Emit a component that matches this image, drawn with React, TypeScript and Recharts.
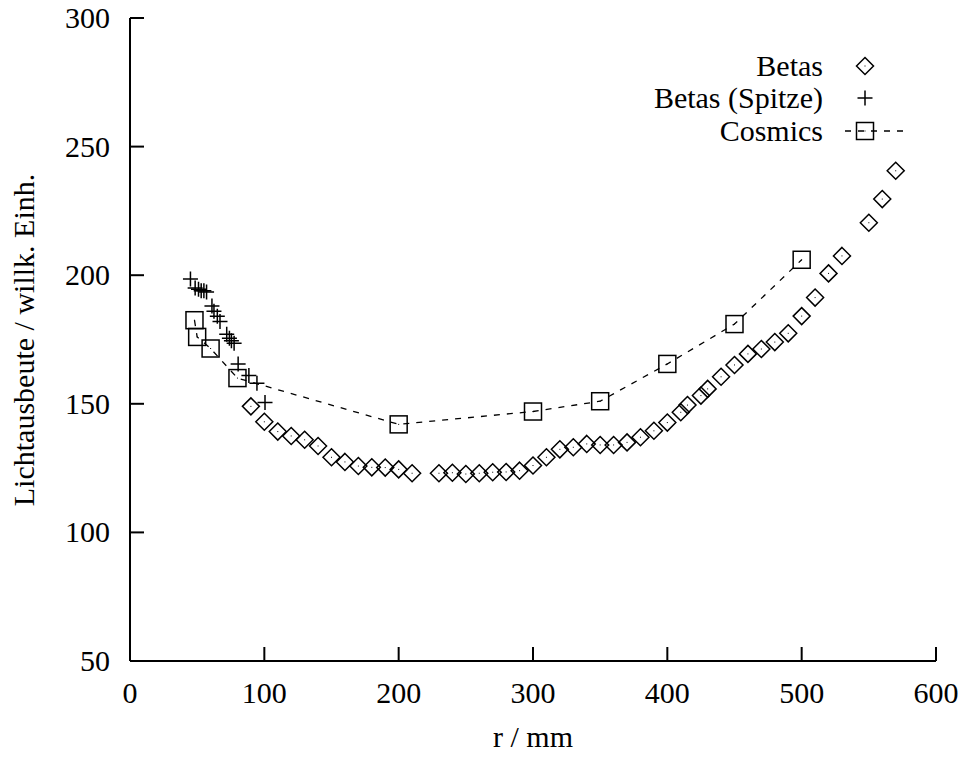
import { ScatterChart, Scatter, XAxis, YAxis, Legend } from "recharts";

// r / mm values and light yield
const betasR = [90, 100, 110, 120, 130, 140, 150, 160, 170, 180, 190, 200, 210, 230, 240, 250, 260, 270, 280, 290, 300, 310, 320, 330, 340, 350, 360, 370, 380, 390, 400, 410, 415, 425, 430, 440, 450, 460, 470, 480, 490, 500, 510, 520, 530, 550, 560, 570];
const betasV = [149, 143, 139.2, 137.5, 136, 133.6, 129.2, 127.4, 125.8, 125.3, 125.2, 124.5, 123, 123, 123.2, 122.7, 123, 123.4, 123.5, 124, 126, 129.2, 132.3, 133.1, 134.4, 134, 134, 135, 137, 139.5, 142.7, 146.7, 149.5, 153.2, 155.8, 160.5, 165.1, 169.4, 171.3, 174, 177.4, 184.1, 191.3, 200.7, 207.5, 220.4, 229.6, 240.6];

const spitzeR = [45, 48.5, 51, 53, 55, 57, 61, 62.5, 65, 67, 72, 74, 75.5, 77.5, 80.5, 88.5, 94.5, 100.5];
const spitzeV = [198.5, 195, 194.5, 194, 194, 193.5, 188, 186, 184, 182, 177, 175.5, 174.5, 173.5, 165.5, 161, 158, 150.5];

const cosmicsR = [48, 50, 60, 80, 200, 300, 350, 400, 450, 500];
const cosmicsV = [182.5, 176, 171.5, 160, 142, 147, 151, 165.5, 181, 206];

const X_TICKS = [0, 100, 200, 300, 400, 500, 600];
const Y_TICKS = [50, 100, 150, 200, 250, 300];

const LEGEND_LABELS = ["Betas", "Betas (Spitze)", "Cosmics"];

const zip = (rs: number[], vs: number[]) => rs.map((r, i) => ({ r, v: vs[i] }));
const betas = zip(betasR, betasV);
const spitze = zip(spitzeR, spitzeV);
const cosmics = zip(cosmicsR, cosmicsV);

// plot frame inside the svg (svg sits at the page's top-left corner)
const W = 964;
const H = 758;
const PL = 130;
const PR = 936;
const PT = 18;
const PB = 661;
const TICK = 14;
const TXT = { fontFamily: '"Liberation Serif", "Times New Roman", Times, serif', fontSize: 30 };

const Diamond = ({ cx, cy }: any) => (
  <g>
    <path d={`M${cx},${cy - 8.5} L${cx + 8.5},${cy} L${cx},${cy + 8.5} L${cx - 8.5},${cy} Z`} fill="none" stroke="#000" strokeWidth={1.5} />
    <rect x={cx - 0.5} y={cy - 0.5} width={1} height={1} fill="#000" />
  </g>
);

const Cross = ({ cx, cy }: any) => (
  <path d={`M${cx - 7.5},${cy} H${cx + 7.5} M${cx},${cy - 7.5} V${cy + 7.5}`} stroke="#000" strokeWidth={1.5} fill="none" />
);

const Square = ({ cx, cy }: any) => (
  <g>
    <rect x={cx - 8.5} y={cy - 8.5} width={17} height={17} fill="none" stroke="#000" strokeWidth={1.5} />
    <rect x={cx - 0.5} y={cy - 0.5} width={1} height={1} fill="#000" />
  </g>
);

const LeftTick = ({ y, payload }: any) => (
  <g>
    <line x1={PL} x2={PL + TICK} y1={y} y2={y} stroke="#000" strokeWidth={2} />
    <text x={PL - 20} y={y + 10} textAnchor="end" style={TXT} fill="#000">
      {payload.value}
    </text>
  </g>
);

const RightTick = ({ y }: any) => <line x1={PR - TICK} x2={PR} y1={y} y2={y} stroke="#000" strokeWidth={2} />;

const BottomTick = ({ x, payload }: any) => (
  <g>
    <line x1={x} x2={x} y1={PB - TICK} y2={PB} stroke="#000" strokeWidth={2} />
    <text x={x} y={PB + 42} textAnchor="middle" style={TXT} fill="#000">
      {payload.value}
    </text>
  </g>
);

const TopTick = ({ x }: any) => <line x1={x} x2={x} y1={PT} y2={PT + TICK} stroke="#000" strokeWidth={2} />;

function LegendBox() {
  const rows = [28, 60, 93];
  const symX = 257;
  return (
    <svg width={330} height={120}>
      {LEGEND_LABELS.map((label, i) => (
        <text key={label} x={215} y={rows[i] + 10} textAnchor="end" style={TXT} fill="#000">
          {label}
        </text>
      ))}
      <Diamond cx={symX} cy={rows[0]} />
      <Cross cx={symX} cy={rows[1]} />
      <line x1={237} x2={297} y1={rows[2]} y2={rows[2]} stroke="#000" strokeWidth={1.3} strokeDasharray="6 7" />
      <Square cx={symX} cy={rows[2]} />
    </svg>
  );
}

export default function App() {
  return (
    <div style={{ position: "absolute", left: 0, top: 0, width: W, height: H }}>
      <ScatterChart width={W} height={H} margin={{ top: PT, right: W - PR, bottom: 0, left: 0 }}>
        <XAxis
          type="number"
          dataKey="r"
          domain={[0, 600]}
          ticks={X_TICKS}
          height={H - PB}
          axisLine={{ stroke: "#000", strokeWidth: 2 }}
          tickLine={false}
          tick={<BottomTick />}
          interval={0}
          label={() => (
            <text x={(PL + PR) / 2} y={H - 11} textAnchor="middle" style={TXT} fill="#000">
              r / mm
            </text>
          )}
        />
        <XAxis
          xAxisId="top"
          orientation="top"
          type="number"
          dataKey="r"
          domain={[0, 600]}
          ticks={X_TICKS}
          height={0}
          axisLine={{ stroke: "#000", strokeWidth: 2 }}
          tickLine={false}
          tick={<TopTick />}
          interval={0}
        />
        <YAxis
          type="number"
          dataKey="v"
          domain={[50, 300]}
          ticks={Y_TICKS}
          width={PL}
          axisLine={{ stroke: "#000", strokeWidth: 2 }}
          tickLine={false}
          tick={<LeftTick />}
          interval={0}
          label={() => (
            <text transform="translate(34,340) rotate(-90)" x={0} y={0} textAnchor="middle" style={TXT} fill="#000">
              Lichtausbeute / willk. Einh.
            </text>
          )}
        />
        <YAxis
          yAxisId="right"
          orientation="right"
          type="number"
          dataKey="v"
          domain={[50, 300]}
          ticks={Y_TICKS}
          width={0}
          axisLine={{ stroke: "#000", strokeWidth: 2 }}
          tickLine={false}
          tick={<RightTick />}
          interval={0}
        />
        <Legend
          layout="vertical"
          align="center"
          verticalAlign="middle"
          wrapperStyle={{ top: 38, left: 608, width: 330, height: 120 }}
          content={() => <LegendBox />}
        />
        <Scatter
          name="Cosmics"
          data={cosmics}
          line={{ stroke: "#000", strokeWidth: 1.3, strokeDasharray: "6 7" }}
          lineType="joint"
          shape={(p: any) => <Square cx={p.cx} cy={p.cy} />}
          isAnimationActive={false}
        />
        <Scatter name="Betas" data={betas} shape={(p: any) => <Diamond cx={p.cx} cy={p.cy} />} isAnimationActive={false} />
        <Scatter name="Betas (Spitze)" data={spitze} shape={(p: any) => <Cross cx={p.cx} cy={p.cy} />} isAnimationActive={false} />
      </ScatterChart>
    </div>
  );
}
